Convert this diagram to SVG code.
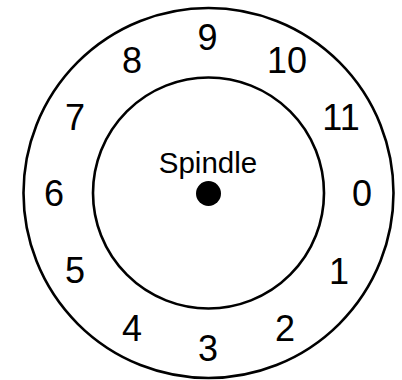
<svg xmlns="http://www.w3.org/2000/svg" width="402" height="380" viewBox="0 0 402 380">
<style>
.ring{fill:none;stroke:#000;stroke-width:2.6}
.num{font-family:"Liberation Sans",Arial,sans-serif;font-size:36px;fill:#000;text-anchor:middle}
.lbl{font-family:"Liberation Sans",Arial,sans-serif;font-size:29.5px;fill:#000;text-anchor:middle}
</style>
<rect width="402" height="380" fill="#fff"/>
<g id="platter">
<circle class="ring" cx="208.5" cy="193" r="185"/>
<circle class="ring" cx="208.5" cy="193" r="115.5"/>
</g>
<g id="spindle">
<circle cx="208.5" cy="193.5" r="12.5" fill="#000"/>
<text class="lbl" x="208" y="173">Spindle</text>
</g>
<g id="sectors">
<text class="num" x="207.5" y="50">9</text>
<text class="num" x="287" y="73">10</text>
<text class="num" x="132" y="73">8</text>
<text class="num" x="75" y="130">7</text>
<text class="num" x="341" y="130">11</text>
<text class="num" x="54" y="206">6</text>
<text class="num" x="362" y="206">0</text>
<text class="num" x="75" y="283">5</text>
<text class="num" x="339" y="284">1</text>
<text class="num" x="132" y="341">4</text>
<text class="num" x="285" y="341">2</text>
<text class="num" x="208" y="361">3</text>
</g>
</svg>
